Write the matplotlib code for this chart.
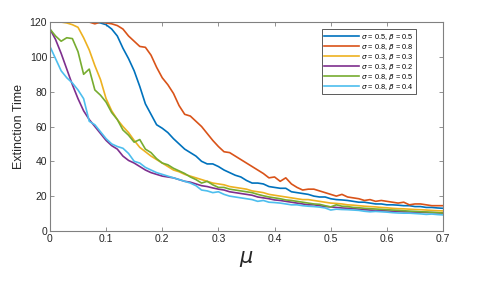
import numpy as np
import matplotlib
matplotlib.use('Agg')
import matplotlib.pyplot as plt

plt.rcParams['font.family'] = ['Liberation Sans', 'DejaVu Sans']
plt.rcParams['mathtext.fontset'] = 'dejavusans'

mu = np.round(np.arange(0, 0.705, 0.01), 2)

s05_b05 = [120, 120, 120, 120, 120, 120, 120, 120, 120, 119.5,
           118.5, 116, 112, 105, 99, 92, 83, 73, 67, 61,
           59, 56.5, 53, 50, 47, 45, 43, 40, 38.5, 38.5,
           37, 35, 33.5, 32, 31, 29, 27.5, 27.5, 27, 25.5,
           25, 24.5, 24.5, 22.5, 22, 21.5, 21, 20, 19.5, 19.5,
           18.5, 18, 17.8, 17.5, 17, 16.5, 16.5, 16, 15.5, 15.5,
           15, 15, 14.8, 14.5, 14.5, 14, 14, 13.5, 13.5, 13.2, 13]
s08_b08 = [120, 120, 120, 120, 120, 120, 120, 120, 119, 120,
           119.5, 119, 118, 116, 112, 109, 106, 105.5, 101, 94,
           88, 84, 79, 72, 67, 66, 63, 60, 56, 52,
           48.5, 45.5, 45, 43, 41, 39, 37, 35, 33, 30.5,
           31, 28.5, 30.5, 27, 25, 23.5, 24, 24, 23, 22,
           21, 20, 21, 19.5, 19, 18.5, 17.5, 18, 17, 17.5,
           17, 16.5, 16, 16.5, 15, 15.5, 15.5, 15, 14.5, 14.5, 14.5]
s03_b03 = [120, 120, 120, 119.5, 118.5, 117, 111, 104, 95, 87,
           76, 69, 64, 60, 56.5, 52, 48, 45.5, 43, 41,
           39, 37, 35, 34, 32.5, 31.5, 30.5, 29.5, 28.5, 27.5,
           27, 26.5, 25.5, 25, 24.5, 24, 23, 22.5, 22, 21,
           20.5, 20, 19.5, 19, 18.5, 18, 18, 17.5, 17, 16.5,
           16, 15.8, 15.5, 15, 14.8, 14.5, 14.2, 14, 13.8, 13.5,
           13.3, 13, 12.8, 12.7, 12.5, 12.3, 12.2, 12, 11.8, 11.6, 11.5]
s03_b02 = [116, 110, 102, 93, 84, 76, 69, 64, 60, 56,
           52, 49, 47, 43, 40.5, 39, 37, 35, 33.5, 32.5,
           31.5, 31, 30.5, 29.5, 28.5, 28, 27, 26, 25.5, 24.7,
           24, 23.5, 22.5, 22, 21.5, 21, 20.5, 19.5, 19, 18.5,
           17.8, 17.5, 17, 16.5, 16, 15.5, 15, 15, 14.5, 14,
           13.8, 13.5, 13.2, 13, 12.8, 12.5, 12.2, 12, 11.8, 11.6,
           11.5, 11.3, 11.2, 11, 10.9, 10.8, 10.7, 10.6, 10.5, 10.4, 10.3]
s08_b05 = [116, 112, 109, 111, 110.5, 103, 90, 93, 81, 78,
           74, 68, 64, 58, 55, 51, 52.5, 47, 45, 41.5,
           39, 38, 36, 34.5, 33, 31, 29.5, 27.5, 28.5, 26.5,
           25, 25, 24, 23.5, 23, 22.5, 22, 21, 20.2, 19.5,
           19, 18.5, 17.8, 17.5, 17, 16.5, 16, 15.5, 15.3, 14.5,
           13.8, 15, 14.2, 14, 13.5, 13.3, 13, 12.8, 12.6, 12.4,
           12.2, 12, 11.8, 11.6, 11.4, 11.2, 11, 10.9, 10.7, 10.5, 10.3]
s08_b04 = [106, 99, 92, 88, 85, 81, 76, 63, 61, 57,
           53, 50, 48.5, 47.5, 44.5, 40, 39, 36.5, 35, 33.5,
           32.5, 31.5, 30.5, 29.5, 28.5, 27.5, 26, 23.5, 23, 22,
           22.5, 21, 20, 19.5, 19, 18.5, 18, 17, 17.5, 16.5,
           16.3, 16, 15.5, 15, 15, 14.5, 14.2, 14, 13.7, 13.2,
           12, 12.5, 12.3, 12.2, 12, 11.8, 11.3, 11, 11.2, 11,
           10.8, 10.5, 10.3, 10.2, 10.2, 10, 9.8, 9.5, 9.7, 9.4, 9.2]

series = [s05_b05, s08_b08, s03_b03, s03_b02, s08_b05, s08_b04]
labels = [r'$\sigma$ = 0.5, $\beta$ = 0.5', r'$\sigma$ = 0.8, $\beta$ = 0.8',
          r'$\sigma$ = 0.3, $\beta$ = 0.3', r'$\sigma$ = 0.3, $\beta$ = 0.2',
          r'$\sigma$ = 0.8, $\beta$ = 0.5', r'$\sigma$ = 0.8, $\beta$ = 0.4']
colors = ['#0072BD', '#D95319', '#EDB120', '#7E2F8E', '#77AC30', '#4DBEEE']

fig = plt.figure(figsize=(4.8, 2.83), dpi=100)
ax = fig.add_axes([0.104, 0.184, 0.819, 0.738])
for y, lab, c in zip(series, labels, colors):
    ax.plot(mu, y, color=c, lw=1.2, label=lab)

ax.set_xlim(0, 0.7)
ax.set_ylim(0, 120)
ax.set_xticks(np.arange(0, 0.71, 0.1))
ax.set_xticklabels(['0', '0.1', '0.2', '0.3', '0.4', '0.5', '0.6', '0.7'])
ax.set_yticks(np.arange(0, 121, 20))
ax.tick_params(direction='in', top=True, right=True, length=3, width=0.6,
               labelsize=7.5, colors='#808080', labelcolor='#262626', pad=2)
for s in ax.spines.values():
    s.set_color('#808080')
    s.set_linewidth(0.8)

ax.set_ylabel('Extinction Time', fontsize=9, color='#262626', labelpad=3)
ax.set_xlabel(r'$\mu$', fontsize=15, color='#262626', labelpad=4)

leg = ax.legend(loc='upper right', bbox_to_anchor=(0.93, 0.965), fontsize=5.3,
                handlelength=4.8, handletextpad=0.2, labelspacing=0.0,
                borderpad=0.3, borderaxespad=0, fancybox=False, framealpha=1)
leg.get_frame().set_edgecolor('#404040')
leg.get_frame().set_linewidth(0.6)

fig.savefig('out.png', dpi=100)
